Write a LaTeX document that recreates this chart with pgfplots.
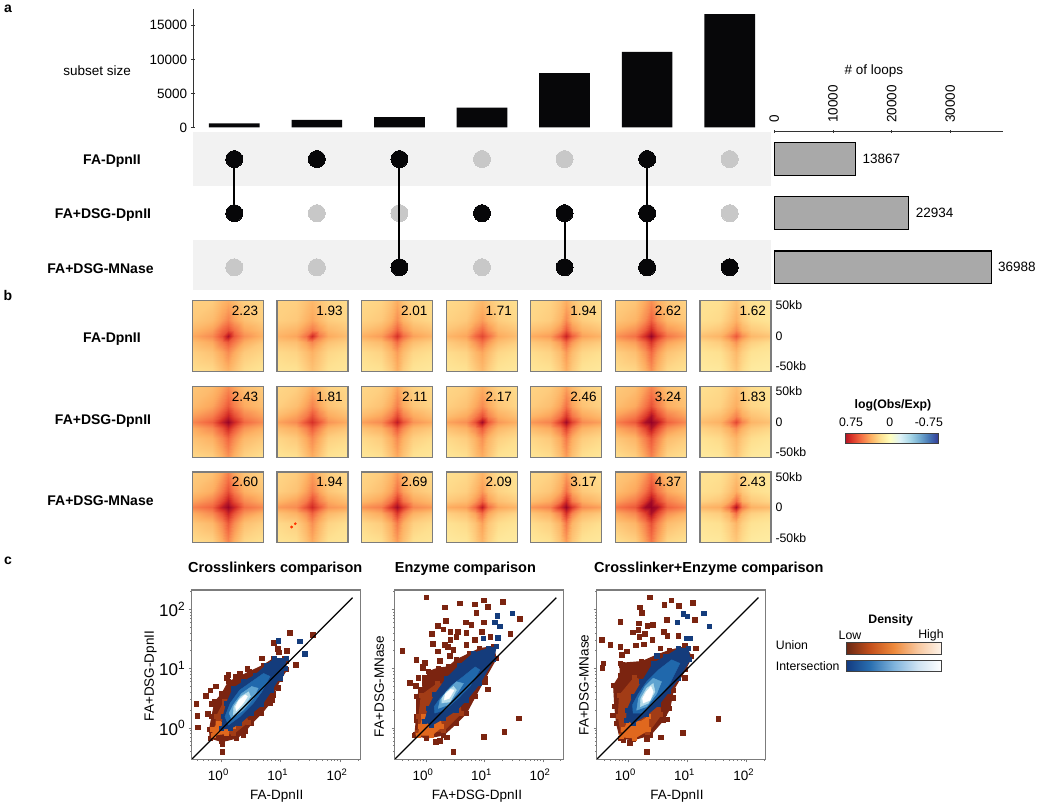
\documentclass[border=0pt]{standalone}
\usepackage{fontspec}
\setmainfont{Liberation Sans}
\usepackage{pgfplots}
\pgfplotsset{compat=1.18}

\newcommand\fs{\fontsize{13.5}{15}\selectfont}
\newcommand\fsm{\fontsize{12.3}{14}\selectfont}
\newcommand\fbold{\fontsize{14}{16}\selectfont\bfseries}
\newcommand\fsb{\fontsize{12.3}{14}\selectfont\bfseries}
\newcommand\ftitle{\fontsize{14.5}{16}\selectfont}
% text placed by picture pixel, y counted from the top
\newcommand\lab[3]{\path (#1pt,{(804-#2)*1pt}) node[font=\fsm,inner sep=0pt] {#3};}
\newcommand\blab[3]{\path (#1pt,{(804-#2)*1pt}) node[font=\fbold,inner sep=0pt] {#3};}
\newcommand\sblab[3]{\path (#1pt,{(804-#2)*1pt}) node[font=\fsb,inner sep=0pt] {#3};}
\newcommand\wlab[3]{\path (#1pt,{(804-#2)*1pt}) node[font=\fsm,anchor=west,inner sep=0pt] {#3};}

\definecolor{barblack}{HTML}{070709}
\definecolor{stripe}{HTML}{F2F2F2}
\definecolor{dotgrey}{HTML}{C8C8C8}
\definecolor{hbar}{HTML}{A9A9A9}
\definecolor{frameg}{HTML}{7C7C7C}
\definecolor{ubr}{HTML}{7B2410}
\definecolor{ubm}{HTML}{A23C16}
\definecolor{uor}{HTML}{E0681E}
\definecolor{ib1}{HTML}{143C7C}
\definecolor{ib2}{HTML}{2068AC}
\definecolor{ib3}{HTML}{5FA3D0}
\definecolor{ib4}{HTML}{B5DCEB}

\pgfplotsset{
  colormap={obsexp}{rgb255=(49,54,149) rgb255=(69,117,180) rgb255=(116,173,209) rgb255=(171,217,233)
    rgb255=(224,243,248) rgb255=(255,255,191) rgb255=(254,224,144) rgb255=(253,174,97)
    rgb255=(244,109,67) rgb255=(215,48,39) rgb255=(150,0,38)},
  colormap={unionbar}{rgb255=(104,40,20) rgb255=(196,80,28) rgb255=(238,138,60) rgb255=(248,200,160) rgb255=(254,245,236)},
  colormap={interbar}{rgb255=(18,58,128) rgb255=(42,111,176) rgb255=(127,179,220) rgb255=(207,227,242) rgb255=(255,255,255)},
  every axis/.append style={scale only axis, anchor=north west, clip marker paths=true,
    scaled ticks=false, every axis title shift=0pt,
    /pgf/number format/assume math mode=true, /pgf/number format/1000 sep={},
    tick label style={font=\fs}},
  heatpanel/.style={width=71pt, height=70.6pt, xmin=-58, xmax=58, ymin=-58, ymax=58, axis on top,
    xtick=\empty, ytick=\empty, axis line style={frameg, line width=1.2pt},
    colormap name=obsexp, point meta min=-75, point meta max=75},
  kbticks/.style={ytick={-50,0,50}, yticklabels={-50kb,0,50kb}, ytick pos=right,
    major tick length=0pt, yticklabel style={anchor=west, xshift=1pt, font=\fsm}},
  scatterpanel/.style={width=169pt, height=169.3pt, ymin=-0.528, ymax=2.326, axis on top,
    xtick={0,1,2}, ytick={0,1,2},
    xticklabels={10\textsuperscript{0},10\textsuperscript{1},10\textsuperscript{2}},
    minor xtick={-0.398,-0.301,-0.222,-0.155,-0.097,-0.046,0.301,0.477,0.602,0.699,0.778,0.845,0.903,0.954,1.301,1.477,1.602,1.699,1.778,1.845,1.903,1.954,2.301},
    minor ytick={-0.398,-0.301,-0.222,-0.155,-0.097,-0.046,0.301,0.477,0.602,0.699,0.778,0.845,0.903,0.954,1.301,1.477,1.602,1.699,1.778,1.845,1.903,1.954,2.301},
    xtick pos=bottom, ytick pos=left, tick align=outside,
    major tick length=3pt, minor tick length=1.5pt, tick style={frameg, line width=0.7pt},
    axis line style={frameg, line width=1.3pt}, xticklabel style={xshift=-3pt, yshift=-3pt}},
  blob/.style={fill=#1, draw=#1, line width=1pt, mark=square*, mark size=2pt,
    mark options={fill=#1, draw=#1, solid}},
  out/.style={only marks, color=#1, mark=square*, mark size=2.3pt, mark options={fill=#1, draw=#1, line width=0pt}},
  legbar/.style={xmin=0, xmax=1, ymin=0, ymax=1, xtick=\empty, ytick=\empty, axis on top,
    axis line style={black!75, line width=1pt}},
}

% one contact map: x, y of the top left corner, number, 7 x 7 values from the top row down
\newcommand\heat[5][]{%
  \def\pts{}%
  \foreach \v [count=\n from 0] in {#5}{%
    \pgfmathtruncatemacro\cx{mod(\n,7)}%
    \pgfmathtruncatemacro\cy{\n/7}%
    \pgfmathparse{{-58,-26,-10,0,10,26,58}[\cx]}\let\gx\pgfmathresult
    \pgfmathparse{{58,26,10,0,-10,-26,-58}[\cy]}\let\gy\pgfmathresult
    \xdef\pts{\pts (\gx,\gy) [\v]}%
  }%
  \begin{axis}[heatpanel, at={(#2pt,#3pt)}, #1]
    \edef\tmp{\noexpand\addplot[surf, shader=interp, mesh/rows=7, point meta=explicit] coordinates {\pts};}\tmp
    \node[font=\fs, anchor=east, inner sep=0pt] at (rel axis cs:0.93,0.855) {#4};
  \end{axis}%
}

\begin{document}
\begin{tikzpicture}
\useasboundingbox (0,0) rectangle (1044pt,804pt);

% ---------- a: intersection sizes
\begin{axis}[at={(193pt,795pt)}, width=578pt, height=118.5pt, ybar, bar width=50.7pt,
    xmin=-0.5, xmax=6.5, ymin=0, ymax=17400, axis x line=none, axis y line=left,
    axis line style={-, black!80, line width=0.9pt}, ytick={0,5000,10000,15000},
    ytick style={black!80, line width=0.9pt}, major tick length=4.5pt, clip=false,
    ylabel={subset size},
    every axis y label/.style={at={(axis description cs:-0.166,0.477)}, anchor=center, font=\fs}]
  \addplot[fill=barblack, draw=none] coordinates {(0,620) (1,1120) (2,1520) (3,2920) (4,8000) (5,11100) (6,16650)};
\end{axis}

% ---------- a: set matrix
\begin{axis}[at={(193pt,672pt)}, width=578pt, height=158pt, xmin=-0.5, xmax=6.5, ymin=-0.5, ymax=2.42,
    y dir=reverse, axis lines=none, clip=false]
  \addplot[fill=stripe, draw=none] coordinates {(-0.5,-0.5) (6.5,-0.5) (6.5,0.5) (-0.5,0.5)} --cycle;
  \addplot[fill=stripe, draw=none] coordinates {(-0.5,1.5) (6.5,1.5) (6.5,2.42) (-0.5,2.42)} --cycle;
  \addplot[only marks, color=dotgrey, mark=*, mark size=8.5pt, mark options={fill=dotgrey, draw=dotgrey, line width=0pt}] coordinates {
    (3,0) (4,0) (6,0) (1,1) (2,1) (6,1) (0,2) (1,2) (3,2)};
  \addplot[black, line width=1.9pt] coordinates {(0,0) (0,1)};
  \addplot[black, line width=1.9pt] coordinates {(2,0) (2,2)};
  \addplot[black, line width=1.9pt] coordinates {(4,1) (4,2)};
  \addplot[black, line width=1.9pt] coordinates {(5,0) (5,2)};
  \addplot[only marks, color=barblack, mark=*, mark size=8.5pt, mark options={fill=barblack, draw=barblack, line width=0pt}] coordinates {
    (0,0) (1,0) (2,0) (5,0) (0,1) (3,1) (4,1) (5,1) (2,2) (4,2) (5,2) (6,2)};
\end{axis}

% ---------- a: set sizes
\begin{axis}[at={(774.3pt,672.3pt)}, width=229pt, height=158.3pt, xbar, bar width=32.5pt,
    xmin=0, xmax=39030, ymin=-0.5, ymax=2.42, y dir=reverse,
    axis x line=top, axis y line=none, axis line style={-, black!80, line width=0.9pt},
    xtick={0,10000,20000,30000}, xtick style={black!80, line width=0.9pt}, major tick length=3pt,
    xticklabel style={rotate=90, anchor=west, xshift=4pt}, clip=false,
    title={\# of loops}, title style={at={(axis description cs:0.435,1.383)}, anchor=center, font=\fs},
    nodes near coords, point meta=x, every node near coord/.append style={font=\fs, black, xshift=3pt}]
  \addplot[fill=hbar, draw=black, line width=1.1pt] coordinates {(13867,0) (22934,1) (36988,2)};
\end{axis}

\blab{8}{8.5}{a}
\blab{8}{295}{b}
\blab{8}{561}{c}
\blab{112}{161}{FA-DpnII}
\blab{103}{215.5}{FA+DSG-DpnII}
\blab{100.5}{269}{FA+DSG-MNase}
\blab{112}{339}{FA-DpnII}
\blab{103}{421}{FA+DSG-DpnII}
\blab{100.5}{500.5}{FA+DSG-MNase}

% ---------- b: contact maps
\heat{192.3}{503.3}{2.23}{20,21,27,30,26,20,18, 22,26,34,40,33,25,20, 27,33,46,52,44,32,25, 31,38,52,70,50,37,28, 25,31,43,50,42,30,22, 20,24,32,38,31,22,18, 15,17,24,28,23,16,13}
\heat{276.9}{503.3}{1.93}{19,20,24,27,23,19,16, 20,22,28,32,27,21,18, 25,28,36,42,35,27,22, 28,32,44,62,42,31,25, 23,25,33,39,32,24,20, 17,19,25,29,24,18,15, 13,14,20,24,20,14,12}
\heat{361.5}{503.3}{2.01}{17,19,24,30,23,18,15, 19,22,29,37,28,21,17, 24,29,38,48,37,28,23, 29,34,47,60,45,33,27, 22,26,35,45,34,25,20, 16,19,27,34,26,18,15, 12,14,21,29,20,13,11}
\heat{446.1}{503.3}{1.71}{17,19,23,27,23,18,15, 19,22,29,34,28,21,17, 23,28,38,46,37,27,22, 27,32,46,54,45,31,25, 21,26,36,44,35,25,20, 16,19,27,32,26,18,15, 12,14,21,26,20,13,11}
\heat{530.7}{503.3}{1.94}{17,19,24,30,24,18,15, 18,21,28,38,28,21,17, 24,28,37,50,37,28,23, 30,34,49,64,48,33,28, 22,26,35,47,35,25,21, 16,19,26,35,26,18,15, 12,14,21,29,21,13,11}
\heat{615.3}{503.3}{2.62}{20,23,31,37,30,23,19, 23,28,38,48,37,27,22, 30,37,50,62,49,36,29, 36,44,62,74,60,43,34, 28,34,47,59,46,33,26, 20,25,36,46,35,24,19, 15,18,28,36,27,17,14}
\heat[kbticks]{700}{503.3}{1.62}{14,15,19,24,18,14,12, 15,17,23,29,22,16,13, 19,23,30,38,29,22,18, 24,28,38,50,37,27,23, 17,21,28,36,27,20,16, 13,15,21,27,20,14,12, 10,11,17,22,16,10,9}

\heat{192.3}{417.3}{2.43}{23,26,32,38,32,25,21, 26,32,42,50,41,31,25, 33,41,54,64,53,40,32, 39,48,65,74,63,46,37, 30,38,51,62,50,36,29, 24,29,39,47,38,27,22, 17,20,29,36,28,19,15}
\heat{276.9}{417.3}{1.81}{18,20,25,30,25,19,17, 20,25,33,40,32,24,19, 26,33,42,52,41,31,25, 32,38,52,60,50,36,30, 25,30,40,49,39,28,23, 18,22,31,38,30,20,17, 13,15,24,30,23,14,12}
\heat{361.5}{417.3}{2.11}{18,20,25,32,25,19,16, 20,24,32,41,31,23,18, 26,32,42,54,41,31,24, 33,38,53,66,51,36,30, 24,29,39,50,38,27,22, 17,21,30,38,29,20,16, 12,15,24,31,23,14,12}
\heat{446.1}{417.3}{2.17}{18,20,25,30,25,19,16, 20,24,31,38,31,23,18, 25,31,41,52,40,30,24, 32,37,52,72,50,35,29, 24,29,39,50,38,27,22, 17,21,29,37,28,20,16, 12,15,24,30,23,14,12}
\heat{530.7}{417.3}{2.46}{19,21,26,33,26,20,17, 21,25,33,44,33,24,19, 27,33,44,58,43,32,26, 35,40,57,72,55,38,33, 26,31,42,56,41,29,24, 18,22,31,42,30,21,17, 13,16,25,34,24,15,12}
\heat{615.3}{417.3}{3.24}{22,25,33,40,33,24,21, 25,31,43,52,42,30,24, 33,42,57,70,56,41,32, 40,50,70,76,68,48,38, 31,39,55,68,54,37,29, 22,28,41,50,40,26,21, 15,20,32,40,31,18,15}
\heat[kbticks]{700}{417.3}{1.83}{15,17,21,25,21,16,14, 17,19,25,30,24,18,15, 21,25,32,40,31,24,20, 25,29,40,54,39,28,24, 19,23,30,38,29,22,18, 14,17,23,28,22,16,13, 10,12,18,23,17,11,10}

\heat{192.3}{332}{2.60}{21,24,32,40,31,23,19, 24,30,42,52,41,29,23, 32,40,54,66,53,38,30, 40,47,66,74,64,45,38, 30,38,52,64,51,36,28, 22,27,39,50,38,25,20, 15,18,29,38,28,17,14}
\heat{276.9}{332}{1.94}{18,21,27,33,26,20,17, 20,24,33,41,32,23,18, 27,33,42,54,41,31,25, 34,38,52,62,50,36,32, 24,29,38,48,37,27,22, 17,20,29,37,28,19,15, 13,15,23,30,22,14,12}
\begin{axis}[heatpanel, at={(276.9pt,332pt)}, axis lines=none]
  \addplot[only marks, color=orange!40!red, mark=*, mark size=1.2pt] coordinates {(-34,-32.4) (-28,-27)};
\end{axis}
\heat{361.5}{332}{2.69}{18,21,27,34,26,20,16, 20,25,33,44,33,24,19, 27,33,45,60,44,32,26, 36,41,60,72,58,39,34, 25,31,43,58,42,29,23, 17,21,31,42,30,20,16, 12,15,25,33,24,14,12}
\heat{446.1}{332}{2.09}{15,17,22,28,22,16,14, 17,20,27,35,26,19,15, 22,26,35,48,34,25,20, 30,33,47,66,45,32,27, 20,24,33,46,32,23,18, 14,17,24,33,23,16,13, 10,12,20,27,19,11,10}
\heat{530.7}{332}{3.17}{17,19,25,33,25,18,15, 19,23,31,44,31,22,18, 25,31,43,62,42,30,24, 35,40,60,74,58,38,33, 23,29,41,60,40,27,22, 16,20,29,43,28,19,15, 11,14,23,33,22,13,11}
\heat{615.3}{332}{4.37}{22,26,34,42,33,25,21, 25,32,44,55,43,31,24, 33,42,58,72,57,41,32, 42,50,72,78,70,48,40, 31,39,56,70,55,37,29, 22,28,41,52,40,26,21, 14,19,32,42,31,17,14}
\heat[kbticks]{700}{332}{2.43}{14,15,19,24,18,14,12, 15,17,23,30,22,16,13, 19,23,31,46,30,22,18, 27,30,44,70,42,29,26, 18,21,29,44,28,20,17, 13,15,21,28,20,14,12, 10,11,17,22,16,10,9}

% colour key of the maps
\sblab{893}{405}{log(Obs/Exp)}
\begin{axis}[at={(845pt,370.7pt)}, width=93.7pt, height=10pt, x dir=reverse, xmin=-0.94, xmax=0.865,
    ymin=0, ymax=1, xtick={-0.75,0,0.75}, xticklabels={-0.75,0,0.75}, ytick=\empty, xtick pos=top, axis on top,
    major tick length=0pt, xticklabel style={yshift=3pt, font=\fsm},
    axis line style={black!75, line width=1pt}, colormap name=obsexp, point meta min=-0.94, point meta max=0.94]
  \addplot[surf, shader=interp, mesh/rows=2, point meta=x] coordinates {(-0.94,0) (0.865,0) (-0.94,1) (0.865,1)};
\end{axis}

% ---------- c: values are log10 of the axis quantity, ticks are labelled as powers of ten
\begin{axis}[scatterpanel, at={(191.7pt,214pt)}, xmin=-0.5, xmax=2.348,
    yticklabels={10\textsuperscript{0},10\textsuperscript{1},10\textsuperscript{2}},
    yticklabel style={font=\fontsize{17}{19}\selectfont},
    xlabel={FA-DpnII}, every axis x label/.style={at={(axis description cs:0.503,-0.217)}, anchor=center, font=\fs},
    ylabel={FA+DSG-DpnII}, every axis y label/.style={at={(axis description cs:-0.243,0.492)}, rotate=90, anchor=center, font=\fs},
    title={\textbf{Crosslinkers comparison}}, title style={at={(axis description cs:-0.022,1.124)}, anchor=west, inner sep=0pt, font=\ftitle}]
  \addplot[out=ubr] coordinates {(1.16,1.60) (1.54,1.57) (0.89,1.43) (0.95,1.33) (0.97,1.27) (1.11,1.30) (1.26,1.06) (1.10,1.12) (0.68,1.17) (0.44,0.99) (0.31,0.91) (0.12,0.89) (0.09,0.84) (0.25,0.87) (-0.09,0.70) (-0.18,0.63) (-0.26,0.54) (-0.42,0.40) (-0.40,0.20) (-0.39,0.01) (-0.16,0.40) (-0.23,0.24) (0.02,-0.27) (0.02,-0.40) (0.96,0.67) (0.88,0.56) (0.79,0.53) (0.85,0.47) (0.62,0.30) (0.37,-0.12)};
  \addplot[blob=ubr] coordinates {(-0.19,-0.17) (0.01,-0.23) (0.26,-0.17) (0.40,-0.06) (0.51,0.08) (0.68,0.25) (0.82,0.42) (0.88,0.58) (0.99,0.81) (1.10,0.98) (1.07,1.17) (0.88,1.17) (0.71,1.06) (0.48,0.95) (0.26,0.84) (0.12,0.78) (0.01,0.58) (-0.11,0.44) (-0.16,0.19) (-0.20,-0.03)} --cycle;
  \addplot[blob=ubm] coordinates {(-0.12,-0.10) (0.20,-0.10) (0.45,0.10) (0.30,0.55) (0.05,0.45) (-0.08,0.2)} --cycle;
  \addplot[blob=uor] coordinates {(-0.13,-0.12) (0.09,-0.09) (0.20,0.02) (0.09,0.11) (-0.05,0.08) (-0.15,-0.03)} --cycle;
  \addplot[blob=ib1] coordinates {(0.01,-0.01) (0.15,-0.01) (0.31,0.08) (0.51,0.25) (0.68,0.39) (0.85,0.64) (1.02,0.92) (1.10,1.17) (0.90,1.17) (0.76,1.06) (0.57,0.89) (0.37,0.78) (0.20,0.67) (0.09,0.42) (0.03,0.19)} --cycle;
  \addplot[fill=ib2, draw=ib2] coordinates {(0.12,0.05) (0.31,0.19) (0.54,0.42) (0.68,0.61) (0.82,0.87) (0.71,0.92) (0.51,0.78) (0.31,0.64) (0.15,0.42) (0.06,0.19)} --cycle;
  \addplot[fill=ib3, draw=ib3] coordinates {(0.17,0.16) (0.37,0.30) (0.54,0.50) (0.62,0.67) (0.51,0.70) (0.34,0.58) (0.20,0.39) (0.13,0.25)} --cycle;
  \addplot[fill=ib4, draw=ib4] coordinates {(0.20,0.22) (0.37,0.36) (0.49,0.53) (0.46,0.61) (0.33,0.53) (0.21,0.36)} --cycle;
  \addplot[fill=white, draw=white] coordinates {(0.25,0.29) (0.37,0.42) (0.44,0.53) (0.40,0.56) (0.29,0.46) (0.24,0.36)} --cycle;
  \addplot[out=ib1] coordinates {(0.96,1.47) (1.33,1.46) (1.41,1.25) (0.99,0.84) (1.07,1.00)};
  \addplot[black, line width=1.2pt] coordinates {(-0.5,-0.528) (2.21,2.197)};
\end{axis}

\begin{axis}[scatterpanel, at={(394.7pt,214pt)}, xmin=-0.534, xmax=2.352, yticklabel=\empty,
    xlabel={FA+DSG-DpnII}, every axis x label/.style={at={(axis description cs:0.487,-0.217)}, anchor=center, font=\fs},
    ylabel={FA+DSG-MNase}, every axis y label/.style={at={(axis description cs:-0.091,0.429)}, rotate=90, anchor=center, font=\fs},
    title={\textbf{Enzyme comparison}}, title style={at={(axis description cs:0,1.124)}, anchor=west, inner sep=0pt, font=\ftitle}]
  \addplot[out=ubr] coordinates {(0.01,2.20) (0.58,2.10) (0.84,2.08) (0.99,2.15) (1.32,2.12) (0.32,2.03) (1.06,2.04) (0.86,1.94) (1.61,1.84) (0.34,1.80) (0.21,1.72) (0.30,1.66) (0.68,1.78) (0.78,1.74) (0.99,1.78) (0.96,1.62) (1.44,1.58) (1.10,1.53) (0.10,1.58) (0.42,1.62) (0.55,1.62) (0.52,1.53) (0.42,1.48) (0.69,1.60) (0.84,1.48) (0.12,1.42) (0.32,1.40) (0.38,1.37) (0.69,1.40) (0.21,1.29) (-0.40,1.30) (-0.16,1.15) (-0.02,1.10) (-0.06,1.03) (-0.05,1.01) (0.24,1.13) (0.41,1.21) (0.47,1.31) (-0.27,0.76) (-0.13,0.84) (-0.02,0.84) (-0.17,0.71) (-0.09,0.64) (1.59,0.16) (1.34,-0.07) (0.99,-0.15) (0.17,-0.24) (0.24,-0.22) (0.36,-0.16) (0.47,-0.40) (1.06,0.65) (1.01,0.78) (-0.13,0.40) (-0.16,0.13) (-0.17,-0.12)};
  \addplot[blob=ubr] coordinates {(-0.19,-0.12) (0.01,-0.17) (0.30,-0.12) (0.52,0.08) (0.69,0.25) (0.84,0.53) (1.01,0.84) (1.20,1.17) (1.15,1.37) (0.92,1.34) (0.75,1.26) (0.52,1.15) (0.38,1.03) (0.21,1.01) (0.04,0.95) (-0.02,0.75) (-0.16,0.53) (-0.16,0.19)} --cycle;
  \addplot[blob=ubm] coordinates {(-0.14,-0.08) (0.30,-0.05) (0.60,0.25) (0.55,0.70) (0.2,0.75) (-0.08,0.55) (-0.12,0.2)} --cycle;
  \addplot[blob=uor] coordinates {(-0.13,-0.12) (0.10,-0.12) (0.27,0.02) (0.24,0.16) (0.07,0.11) (-0.05,0.19) (-0.10,0.02)} --cycle;
  \addplot[blob=ib1] coordinates {(-0.02,0.11) (0.10,0.05) (0.30,0.16) (0.52,0.30) (0.69,0.47) (0.92,0.75) (1.15,1.15) (1.20,1.37) (1.06,1.34) (0.81,1.26) (0.58,1.06) (0.35,0.84) (0.15,0.56) (0.04,0.33)} --cycle;
  \addplot[fill=ib2, draw=ib2] coordinates {(0.15,0.25) (0.32,0.30) (0.55,0.50) (0.75,0.70) (0.92,0.98) (0.84,1.03) (0.64,0.87) (0.44,0.72) (0.24,0.50) (0.14,0.36)} --cycle;
  \addplot[fill=ib3, draw=ib3] coordinates {(0.21,0.33) (0.38,0.39) (0.55,0.61) (0.64,0.75) (0.52,0.78) (0.38,0.64) (0.24,0.47)} --cycle;
  \addplot[fill=ib4, draw=ib4] coordinates {(0.27,0.42) (0.41,0.44) (0.52,0.64) (0.47,0.70) (0.35,0.61) (0.27,0.50)} --cycle;
  \addplot[fill=white, draw=white] coordinates {(0.31,0.47) (0.40,0.50) (0.48,0.64) (0.42,0.65) (0.33,0.57)} --cycle;
  \addplot[out=ib1] coordinates {(1.22,1.89) (1.48,1.93) (1.18,1.78) (1.26,1.71) (0.98,1.51) (1.23,1.52)};
  \addplot[black, line width=1.2pt] coordinates {(-0.534,-0.528) (2.227,2.197)};
\end{axis}

\begin{axis}[scatterpanel, at={(596.7pt,214pt)}, xmin=-0.535, xmax=2.32, yticklabel=\empty,
    xlabel={FA-DpnII}, every axis x label/.style={at={(axis description cs:0.475,-0.217)}, anchor=center, font=\fs},
    ylabel={FA+DSG-MNase}, every axis y label/.style={at={(axis description cs:-0.075,0.439)}, rotate=90, anchor=center, font=\fs},
    title={\textbf{Crosslinker+Enzyme comparison}}, title style={at={(axis description cs:-0.016,1.124)}, anchor=west, inner sep=0pt, font=\ftitle}]
  \addplot[out=ubr] coordinates {(0.37,2.20) (0.73,2.15) (0.61,2.07) (0.86,2.06) (1.09,2.11) (0.20,2.03) (0.23,1.94) (-0.13,1.79) (0.18,1.76) (0.65,1.82) (0.32,1.72) (0.42,1.74) (0.08,1.61) (0.17,1.65) (0.19,1.53) (0.28,1.58) (0.60,1.62) (-0.45,1.48) (-0.30,1.40) (-0.13,1.37) (-0.02,1.29) (0.13,1.39) (0.26,1.41) (0.41,1.48) (0.54,1.34) (0.66,1.55) (0.85,1.55) (1.13,1.82) (1.14,1.34) (0.96,1.39) (-0.11,1.23) (-0.11,1.06) (-0.42,1.09) (-0.44,1.01) (1.52,0.15) (0.92,-0.08) (0.55,-0.16) (0.31,-0.19) (0.31,-0.40) (0.03,-0.25) (-0.08,-0.20) (-0.26,0.21) (0.66,0.14) (0.61,0.25) (0.76,0.51) (0.96,0.84)};
  \addplot[blob=ubr] coordinates {(-0.14,-0.17) (0.08,-0.20) (0.37,-0.12) (0.59,0.13) (0.70,0.33) (0.76,0.64) (0.96,0.98) (1.07,1.20) (0.96,1.37) (0.70,1.31) (0.48,1.23) (0.23,1.12) (-0.14,1.09) (-0.14,0.89) (-0.25,0.72) (-0.23,0.36) (-0.20,0.08)} --cycle;
  \addplot[blob=ubm] coordinates {(-0.12,-0.12) (0.33,-0.08) (0.55,0.22) (0.5,0.7) (0.1,0.85) (-0.15,0.55) (-0.17,0.2)} --cycle;
  \addplot[blob=uor] coordinates {(-0.11,-0.15) (0.11,-0.17) (0.34,-0.03) (0.34,0.19) (0.17,0.08) (0,0.11) (-0.08,-0.03)} --cycle;
  \addplot[blob=ib1] coordinates {(-0.03,0.13) (0.08,0.08) (0.31,0.22) (0.51,0.39) (0.68,0.61) (0.85,0.84) (1.04,1.15) (1.01,1.34) (0.85,1.34) (0.62,1.20) (0.42,1.09) (0.23,0.78) (0.08,0.53) (-0.02,0.30)} --cycle;
  \addplot[fill=ib2, draw=ib2] coordinates {(0.08,0.25) (0.25,0.25) (0.48,0.47) (0.70,0.75) (0.87,1.09) (0.73,1.15) (0.51,0.98) (0.31,0.78) (0.17,0.58) (0.07,0.39)} --cycle;
  \addplot[fill=ib3, draw=ib3] coordinates {(0.14,0.30) (0.31,0.36) (0.48,0.58) (0.56,0.78) (0.42,0.84) (0.28,0.70) (0.17,0.50)} --cycle;
  \addplot[fill=ib4, draw=ib4] coordinates {(0.20,0.36) (0.34,0.42) (0.45,0.61) (0.42,0.75) (0.31,0.67) (0.21,0.50)} --cycle;
  \addplot[fill=white, draw=white] coordinates {(0.25,0.42) (0.37,0.47) (0.42,0.61) (0.38,0.70) (0.30,0.61) (0.24,0.50)} --cycle;
  \addplot[out=ib1] coordinates {(1.37,1.71) (1.00,1.88) (0.93,1.92) (1.28,1.93) (0.83,1.78) (0.99,1.51) (1.04,1.51) (0.48,1.21)};
  \addplot[black, line width=1.2pt] coordinates {(-0.535,-0.528) (2.197,2.197)};
\end{axis}

% density key
\sblab{890.7}{620.5}{Density}
\lab{850}{635}{Low}
\lab{931}{635}{High}
\wlab{775.7}{645}{Union}
\wlab{775.7}{666}{Intersection}
\begin{axis}[legbar, at={(846pt,161.3pt)}, width=95.7pt, height=11.3pt, colormap name=unionbar]
  \addplot[surf, shader=interp, mesh/rows=2, point meta=x] coordinates {(0,0) (1,0) (0,1) (1,1)};
\end{axis}
\begin{axis}[legbar, at={(846pt,143.3pt)}, width=95.7pt, height=10.3pt, colormap name=interbar]
  \addplot[surf, shader=interp, mesh/rows=2, point meta=x] coordinates {(0,0) (1,0) (0,1) (1,1)};
\end{axis}
\end{tikzpicture}
\end{document}
